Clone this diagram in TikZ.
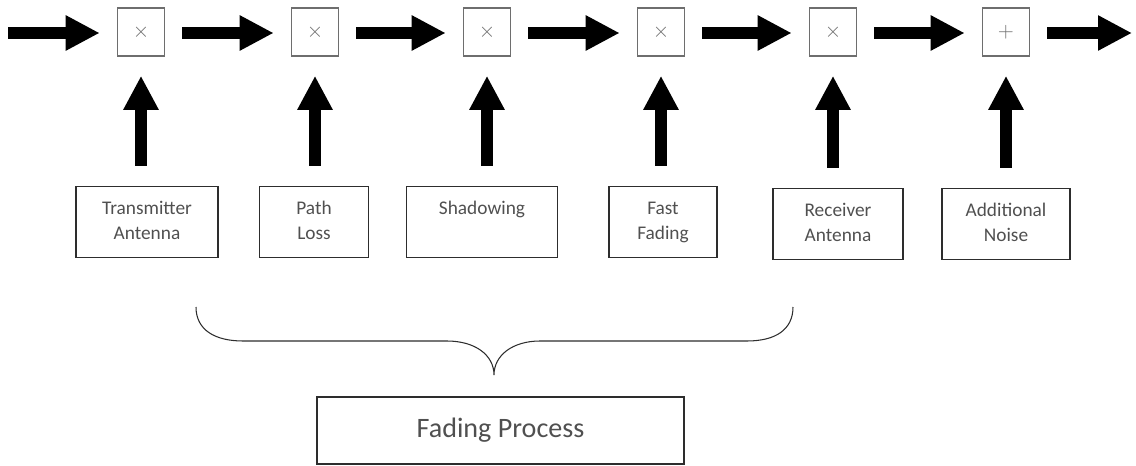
\documentclass[tikz,border=0pt]{standalone}
\usepackage{fontspec}
\setmainfont{Carlito}
\usepackage{tikz}
\usetikzlibrary{arrows.meta, positioning, calc}
\definecolor{textgray}{RGB}{80, 80, 80}
\definecolor{mixgray}{RGB}{110, 110, 110}
\definecolor{linegray}{RGB}{45, 45, 45}

\begin{document}
\begin{tikzpicture}[
    x=0.02cm, y=-0.02cm,
    mixer/.style={draw=mixgray, line width=0.9pt, minimum width=0.94cm, minimum height=0.96cm, inner sep=0pt, text=mixgray, font=\large},
    block/.style={draw=linegray, line width=0.9pt, minimum height=1.42cm, inner sep=0pt, align=center, text=textgray, font=\fontsize{11}{14.2}\selectfont},
    procbox/.style={draw=linegray, line width=0.8pt, minimum width=7.34cm, minimum height=1.34cm, inner sep=0pt, text=textgray, font=\fontsize{16}{19}\selectfont},
    flow/.style={line width=6.8pt, -{Triangle[length=0.68cm, width=0.66cm]}},
    feed/.style={flow, shorten <=0.4cm, shorten >=0.38cm},
]
    \useasboundingbox (0,0) rectangle (1136,466);

    % Mixers
    \node[mixer] (m1) at (141,32) {$\times$};
    \node[mixer] (m2) at (315,32) {$\times$};
    \node[mixer] (m3) at (487,32) {$\times$};
    \node[mixer] (m4) at (661,32) {$\times$};
    \node[mixer] (m5) at (833,32) {$\times$};
    \node[mixer] (m6) at (1006,32) {$+$};
    \coordinate (in) at (8,33);
    \coordinate (out) at (1132,33);

    % Effects
    \node[block, minimum width=2.84cm] (tx) at (147,222) {\strut Transmitter\\\strut Antenna};
    \node[block, minimum width=2.18cm] (pl) at (314,222) {\strut Path\\\strut Loss};
    \node[block, minimum width=3.02cm] (sh) at (482,222) {\strut Shadowing\\\strut};
    \node[block, minimum width=2.16cm] (ff) at (663,222) {\strut Fast\\\strut Fading};
    \node[block, minimum width=2.60cm] (rx) at (838,224) {\strut Receiver\\\strut Antenna};
    \node[block, minimum width=2.56cm] (an) at (1006,224) {\strut Additional\\\strut Noise};

    \node[procbox] (fp) at (500.5,430.5) {Fading Process};

    % Signal chain
    \draw[flow, shorten >=0.34cm] (in) -- (m1.west |- in);
    \draw[flow, shorten <=0.34cm, shorten >=0.34cm] ($(m1.east)+(0,1)$) -- ($(m2.west)+(0,1)$);
    \draw[flow, shorten <=0.34cm, shorten >=0.34cm] ($(m2.east)+(0,1)$) -- ($(m3.west)+(0,1)$);
    \draw[flow, shorten <=0.34cm, shorten >=0.34cm] ($(m3.east)+(0,1)$) -- ($(m4.west)+(0,1)$);
    \draw[flow, shorten <=0.34cm, shorten >=0.34cm] ($(m4.east)+(0,1)$) -- ($(m5.west)+(0,1)$);
    \draw[flow, shorten <=0.34cm, shorten >=0.34cm] ($(m5.east)+(0,1)$) -- ($(m6.west)+(0,1)$);
    \draw[flow, shorten <=0.34cm] (m6.east |- out) -- (out);

    % Inputs
    \draw[feed] (m1 |- tx.north) -- (m1.south);
    \draw[feed] (m2 |- pl.north) -- (m2.south);
    \draw[feed] (m3 |- sh.north) -- (m3.south);
    \draw[feed] (m4 |- ff.north) -- (m4.south);
    \draw[feed] (m5 |- rx.north) -- (m5.south);
    \draw[feed] (m6 |- an.north) -- (m6.south);

    % Brace
    \coordinate (bl) at (196,307);
    \coordinate (br) at (793,307);
    \coordinate (tip) at (494,375);
    \draw[linegray, line width=0.6pt] (bl) .. controls (196,330) and (215,341) .. (243,341)
        -- (447,341) .. controls (475,341) and (494,355) .. (tip)
        .. controls (494,355) and (513,341) .. (540,341)
        -- (747,341) .. controls (775,341) and (793,330) .. (br);
\end{tikzpicture}
\end{document}
